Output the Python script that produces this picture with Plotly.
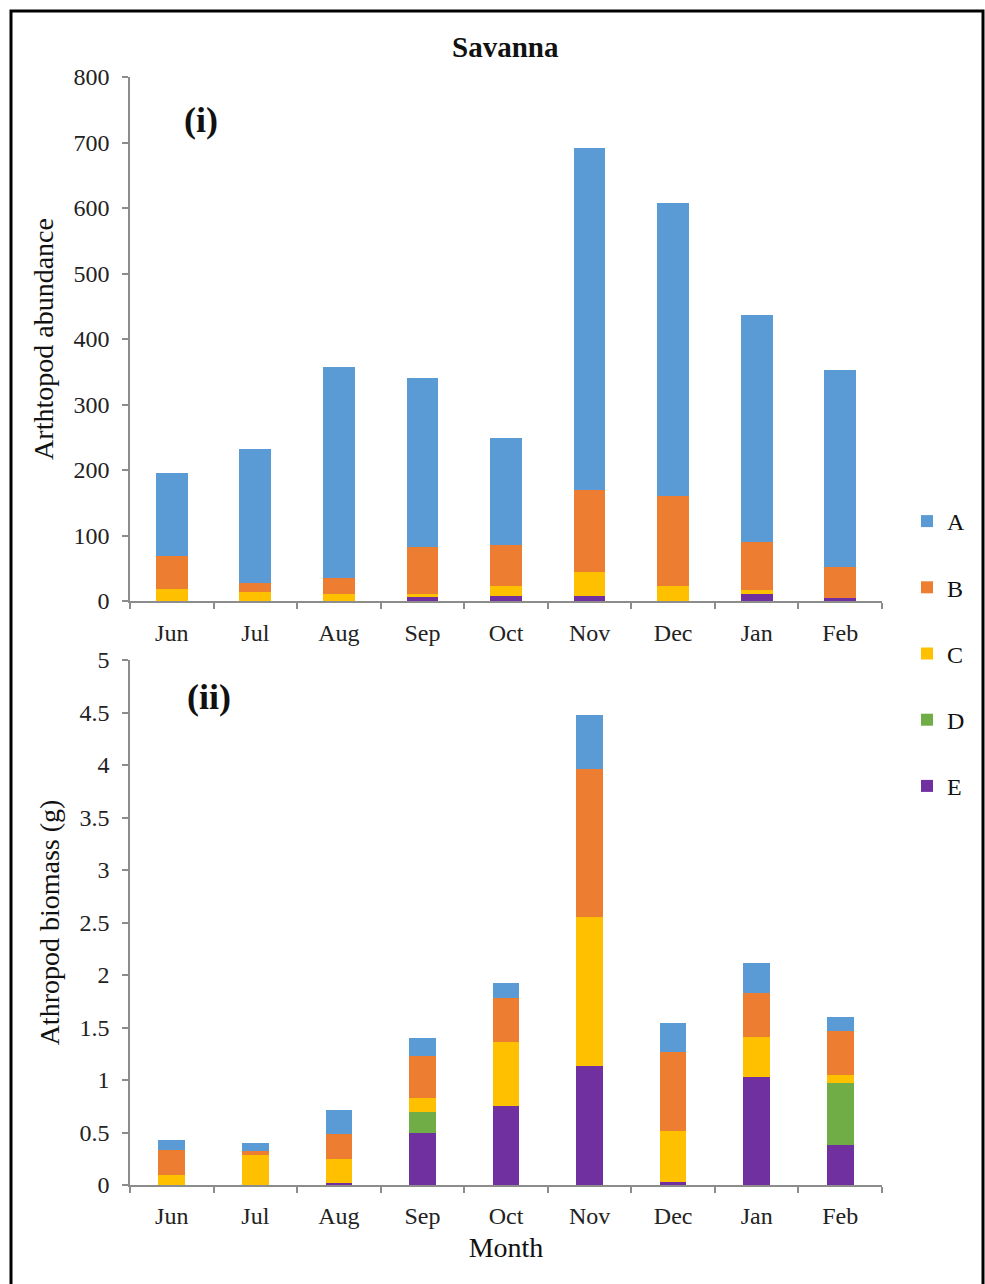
import plotly.graph_objects as go

months = ["Jun", "Jul", "Aug", "Sep", "Oct", "Nov", "Dec", "Jan", "Feb"]
series_names = ["A", "B", "C", "D", "E"]
colors = {"A": "#5B9BD5", "B": "#ED7D31", "C": "#FFC000", "D": "#70AD47", "E": "#7030A0"}

# (i) Arthropod abundance
abund_A = [127, 204, 322, 258, 164, 521, 447, 347, 301]
abund_B = [49, 14, 24, 72, 62, 125, 137, 73, 47]
abund_C = [19, 14, 11, 3, 16, 37, 23, 6, 0]
abund_D = [0, 0, 0, 0, 0, 0, 0, 0, 0]
abund_E = [0, 0, 0, 7, 7, 8, 0, 11, 5]

# (ii) Arthropod biomass (g)
bio_A = [0.10, 0.08, 0.22, 0.17, 0.14, 0.52, 0.27, 0.28, 0.13]
bio_B = [0.23, 0.03, 0.24, 0.40, 0.42, 1.41, 0.76, 0.42, 0.42]
bio_C = [0.10, 0.29, 0.23, 0.13, 0.61, 1.42, 0.48, 0.38, 0.08]
bio_D = [0.00, 0.00, 0.00, 0.20, 0.00, 0.00, 0.00, 0.00, 0.59]
bio_E = [0.00, 0.00, 0.02, 0.50, 0.75, 1.13, 0.03, 1.03, 0.38]

y1_ticks = [0, 100, 200, 300, 400, 500, 600, 700, 800]
y2_ticks = [0, 0.5, 1, 1.5, 2, 2.5, 3, 3.5, 4, 4.5, 5]

abund = {"A": abund_A, "B": abund_B, "C": abund_C, "D": abund_D, "E": abund_E}
bio = {"A": bio_A, "B": bio_B, "C": bio_C, "D": bio_D, "E": bio_E}

W, H = 985, 1284
FONT = "Liberation Serif"

fig = go.Figure()
for rank, name in zip([5, 4, 3, 2, 1], ["E", "D", "C", "B", "A"]):
    fig.add_trace(go.Bar(x=months, y=abund[name], name=name, marker_color=colors[name],
                         marker_line_width=0, width=0.38, xaxis="x", yaxis="y",
                         legendgroup=name, legendrank=rank, showlegend=True))
for name in ["E", "D", "C", "B", "A"]:
    fig.add_trace(go.Bar(x=months, y=bio[name], name=name, marker_color=colors[name],
                         marker_line_width=0, width=0.32, xaxis="x2", yaxis="y2",
                         legendgroup=name, showlegend=False))

xl, xr = 130 / W, 882 / W
axis_common = dict(showline=True, linecolor="#8c8c8c", linewidth=1.5, ticks="outside",
                   tickcolor="#8c8c8c", ticklen=6, tickwidth=1.5, showgrid=False,
                   zeroline=False, automargin=False,
                   tickfont=dict(family=FONT, size=24, color="#222"))

fig.update_layout(
    width=W, height=H,
    margin=dict(l=0, r=0, t=0, b=0, autoexpand=False),
    paper_bgcolor="white", plot_bgcolor="white",
    barmode="stack",
    font=dict(family=FONT, color="#111"),
    xaxis=dict(domain=[xl, xr], anchor="y", type="category", tickson="boundaries",
               ticklabelstandoff=9, **axis_common),
    yaxis=dict(domain=[1 - 601 / H, 1 - 77 / H], anchor="x", range=[0, 800],
               tickvals=y1_ticks, ticklabelstandoff=8,
               title=dict(text="Arthtopod abundance", font=dict(family=FONT, size=28), standoff=12),
               **axis_common),
    xaxis2=dict(domain=[xl, xr], anchor="y2", type="category", tickson="boundaries",
                ticklabelstandoff=8,
                title=dict(text="Month", font=dict(family=FONT, size=28), standoff=10),
                **axis_common),
    yaxis2=dict(domain=[1 - 1185 / H, 1 - 660 / H], anchor="x2", range=[0, 5],
                tickvals=y2_ticks, ticklabelstandoff=8,
                title=dict(text="Athropod biomass (g)", font=dict(family=FONT, size=28), standoff=12),
                **axis_common),
    legend=dict(x=907 / W, y=1 - 499 / H, xanchor="left", yanchor="top",
                traceorder="grouped", tracegroupgap=32,
                font=dict(family=FONT, size=24, color="#111"),
                bgcolor="rgba(0,0,0,0)", itemwidth=30),
    annotations=[
        dict(text="<b>Savanna</b>", x=505 / W, y=1 - 47 / H, xref="paper", yref="paper",
             yanchor="middle", showarrow=False, font=dict(family=FONT, size=29, color="#111")),
        dict(text="<b>(i)</b>", x=182 / W, y=1 - 120 / H, xref="paper", yref="paper",
             yanchor="middle", showarrow=False, font=dict(family=FONT, size=36, color="#111")),
        dict(text="<b>(ii)</b>", x=185 / W, y=1 - 697 / H, xref="paper", yref="paper",
             yanchor="middle", showarrow=False, font=dict(family=FONT, size=36, color="#111")),
    ],
    shapes=[
        dict(type="rect", xref="paper", yref="paper", x0=11 / W, x1=983 / W,
             y0=-0.01, y1=1 - 11 / H, line=dict(color="black", width=3)),
    ],
)

fig.write_html("out.html", config={"displayModeBar": False})

# remove default page margins so the figure sits at the window's origin
with open("out.html", "r", encoding="utf-8") as f:
    html = f.read()
html = html.replace("<head>", "<head><style>html,body{margin:0;padding:0;overflow:hidden;}</style>", 1)
with open("out.html", "w", encoding="utf-8") as f:
    f.write(html)
